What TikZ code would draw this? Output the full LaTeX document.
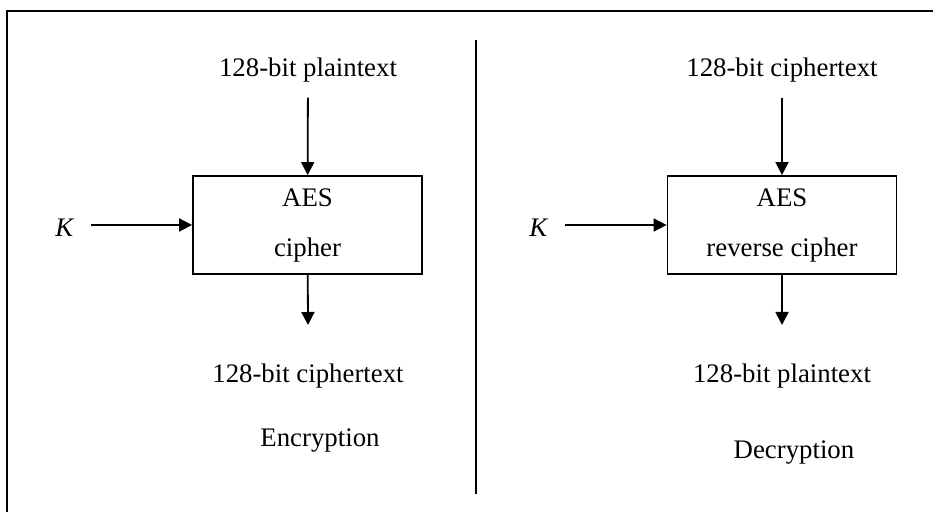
\documentclass[tikz,border=0pt]{standalone}
\usepackage{fontspec}
\setmainfont{Liberation Serif}
\usepackage{tikz}
\usetikzlibrary{arrows.meta}
\usetikzlibrary{positioning}

\begin{document}
\begin{tikzpicture}[x=0.5pt,y=-0.5pt,line width=0.9pt,
    every node/.style={font=\fontsize{13.4}{16}\selectfont},
    cipherbox/.style={draw,minimum width=114.5pt,minimum height=49pt,align=center,
      font=\fontsize{13.4}{25}\selectfont},
    flow/.style={-{Triangle[length=6.5pt,width=6.5pt]}}]
  \useasboundingbox (0,0) rectangle (933,512);
  % frame and divider
  \draw (7,520) -- (7,11) -- (940,11);
  \coordinate (divtop) at (476,40);
  \coordinate (divbot) at (476,494);
  \draw (divtop) -- (divbot);

  % encryption
  \node (encin) at (308,70) {128-bit plaintext};
  \node[cipherbox] (enc) at (307.5,225) {AES\\cipher};
  \node (encout) at (308,376) {128-bit ciphertext};
  \node (enclabel) at (320,441) {Encryption};
  \node (enck) at (65,228) {\textit{K}};
  \coordinate (enckstart) at (91,225);
  \coordinate (encend) at (308,325);
  \draw[flow,shorten <=4pt] (encin) -- (enc);
  \draw[flow] (enckstart) -- (enc);
  \draw[flow] (enc) -- (encend);

  % decryption
  \node (decin) at (782,70) {128-bit ciphertext};
  \node[cipherbox] (dec) at (782,225) {AES\\reverse cipher};
  \node (decout) at (782,376) {128-bit plaintext};
  \node (declabel) at (794,453) {Decryption};
  \node (deck) at (539,228) {\textit{K}};
  \coordinate (deckstart) at (565,225);
  \coordinate (decend) at (782,325);
  \draw[flow,shorten <=4pt] (decin) -- (dec);
  \draw[flow] (deckstart) -- (dec);
  \draw[flow] (dec) -- (decend);
\end{tikzpicture}
\end{document}
